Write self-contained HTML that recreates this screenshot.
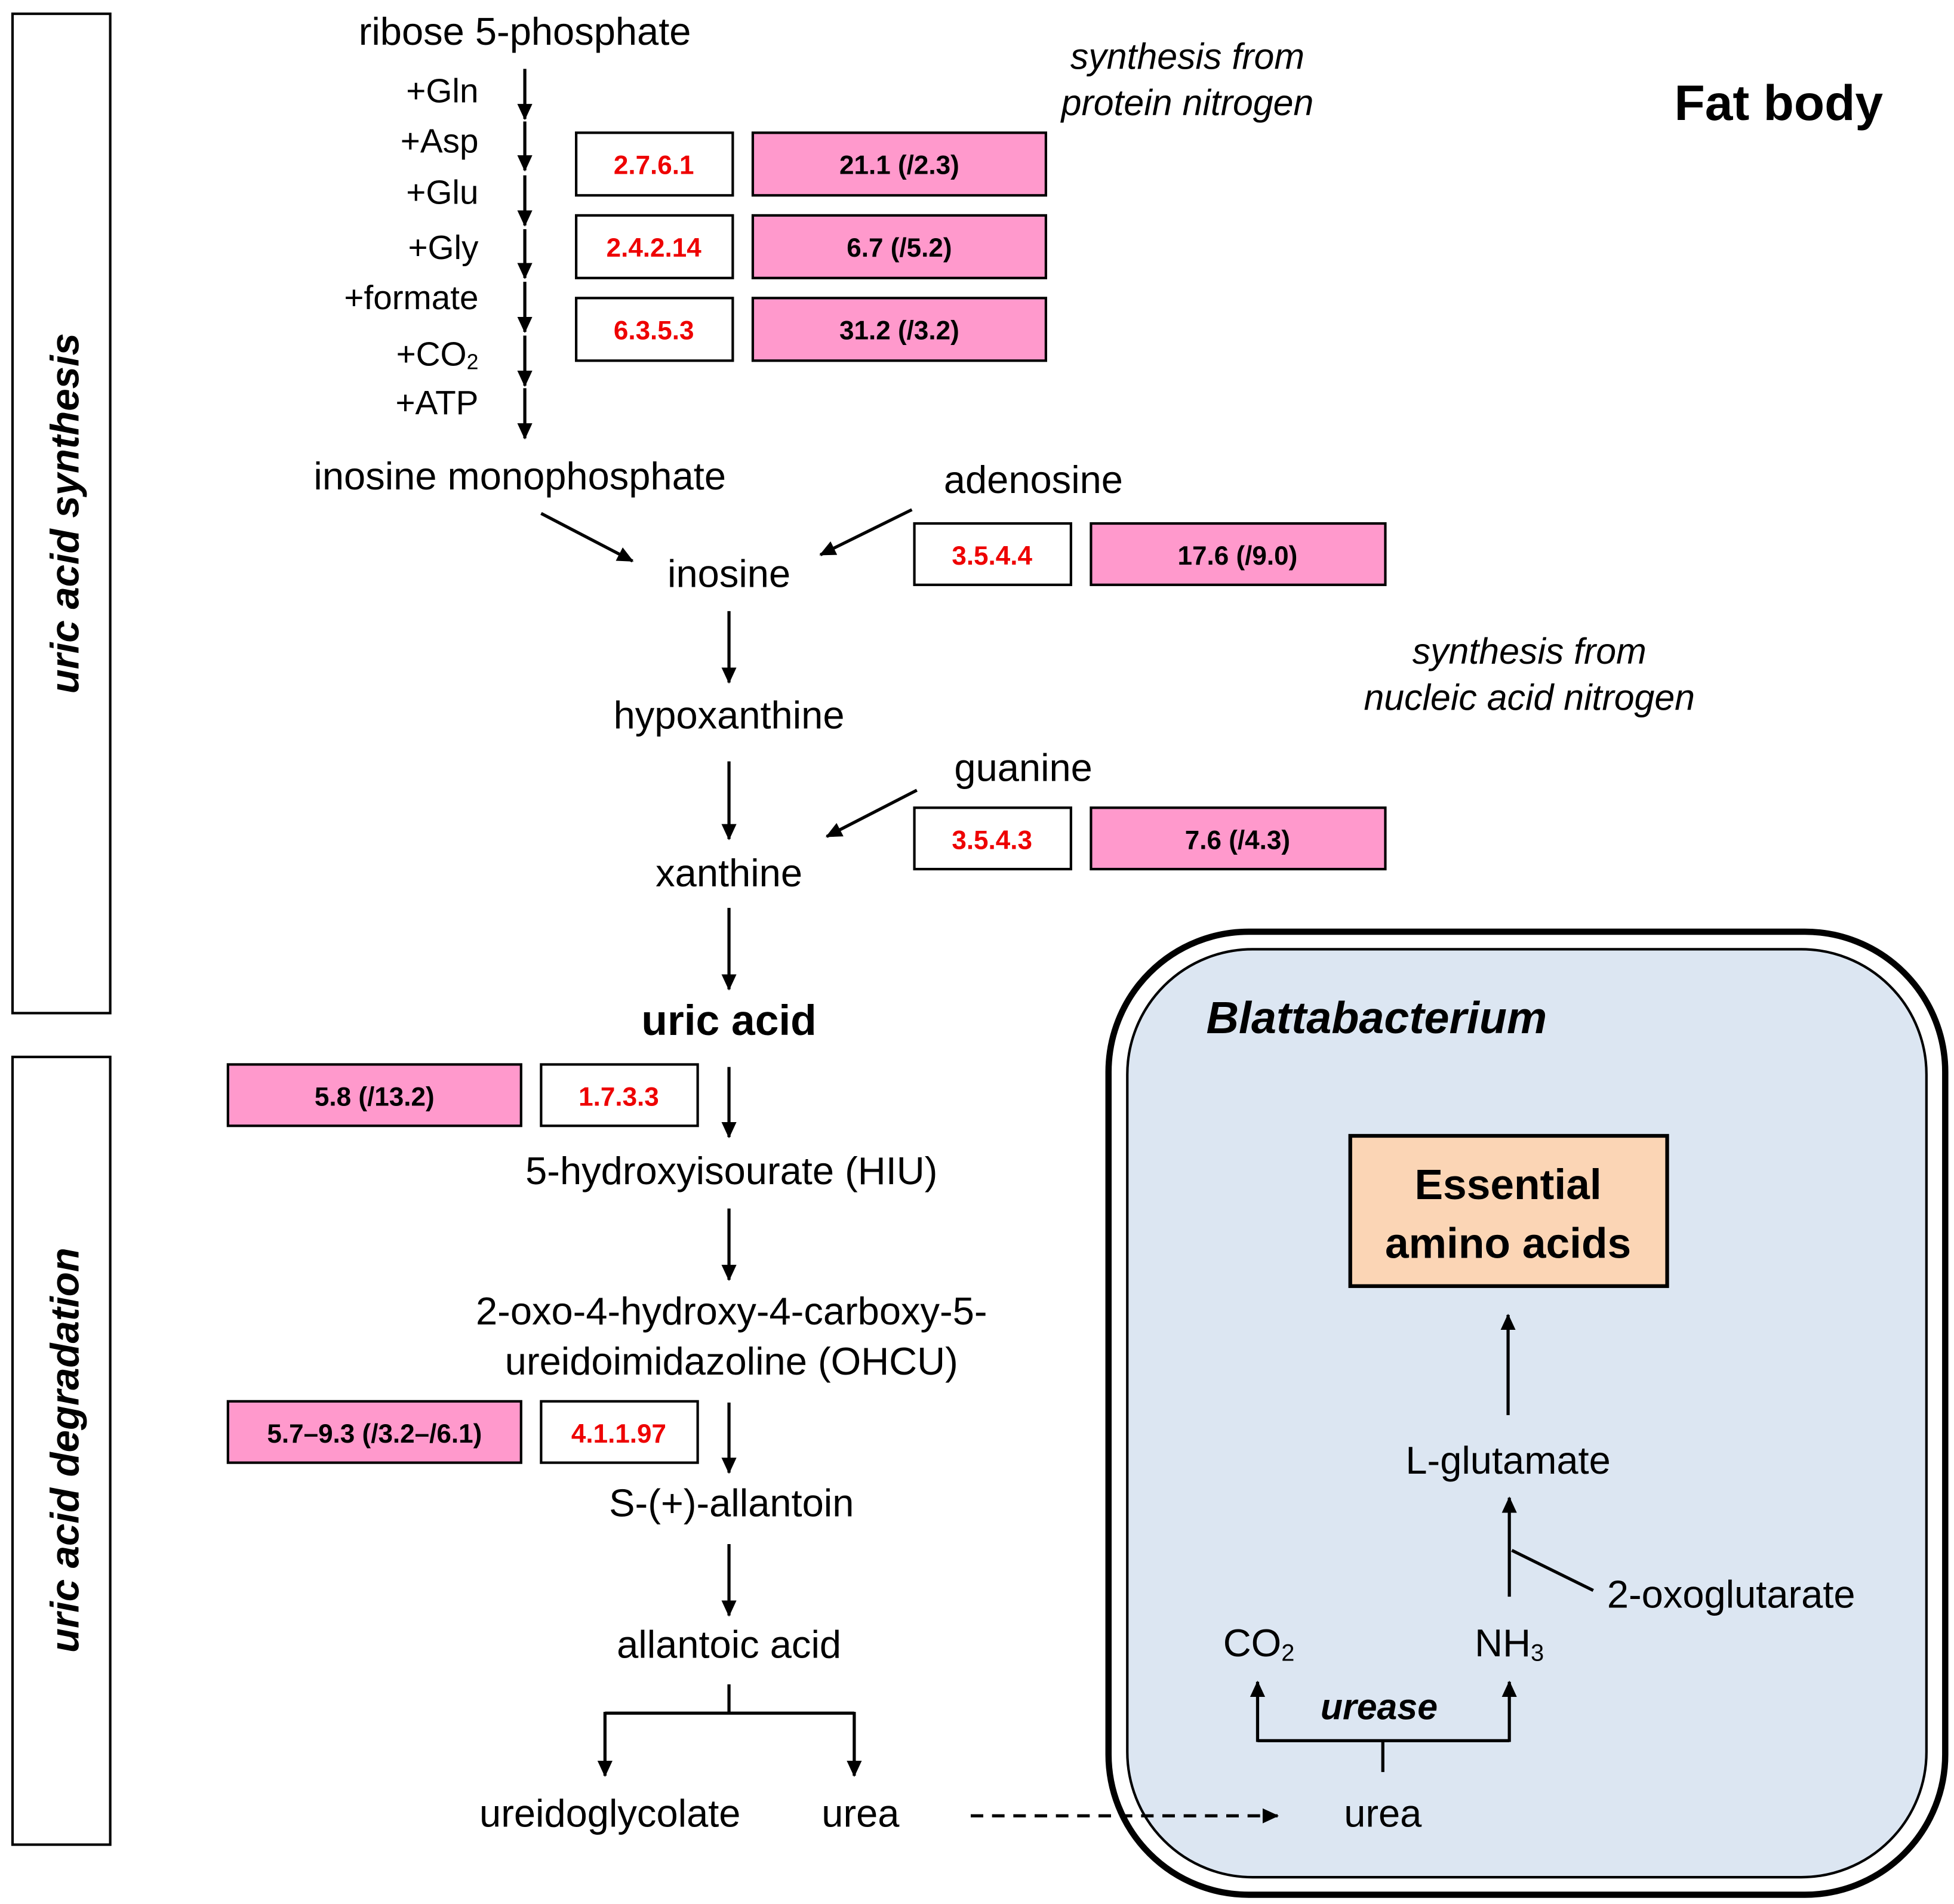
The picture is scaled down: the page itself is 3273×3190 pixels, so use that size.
<!DOCTYPE html>
<html><head><meta charset="utf-8"><style>
html,body{margin:0;padding:0;background:#fff;}
svg{display:block;}
text{font-family:"Liberation Sans",sans-serif;dominant-baseline:central;}
.t{font-size:31px;text-anchor:middle;}
.i{font-size:29px;text-anchor:middle;font-style:italic;}
.s{font-size:27px;text-anchor:end;}
.r{font-size:21px;font-weight:bold;fill:#e00;text-anchor:middle;}
.p{font-size:21px;font-weight:bold;fill:#000;text-anchor:middle;}
.wb{fill:#fff;stroke:#000;stroke-width:2;}
.pb{fill:#ff99cc;stroke:#000;stroke-width:2;}
.ln{stroke:#000;stroke-width:2.5;fill:none;}
</style></head><body>
<svg width="3273" height="3190" viewBox="0 0 1560 1520.4" preserveAspectRatio="none" xmlns="http://www.w3.org/2000/svg">
<defs>
<marker id="b" markerWidth="14" markerHeight="14" refX="12" refY="7" orient="auto" markerUnits="userSpaceOnUse"><path d="M0,1 L13,7 L0,13 z" fill="#000"/></marker></defs>

<rect x="10" y="11" width="78" height="798" fill="#fff" stroke="#000" stroke-width="2"/>
<text transform="translate(52,410) rotate(-90)" style="font-size:32px;font-weight:bold;font-style:italic;text-anchor:middle">uric acid synthesis</text>
<rect x="10" y="844" width="78" height="629" fill="#fff" stroke="#000" stroke-width="2"/>
<text transform="translate(52,1158) rotate(-90)" style="font-size:32px;font-weight:bold;font-style:italic;text-anchor:middle">uric acid degradation</text>

<text class="t" x="419" y="25">ribose 5-phosphate</text>
<g class="ln" marker-end="url(#b)">
<line x1="419" y1="55" x2="419" y2="95"/><line x1="419" y1="97" x2="419" y2="136"/><line x1="419" y1="140" x2="419" y2="180"/><line x1="419" y1="183" x2="419" y2="222"/><line x1="419" y1="225" x2="419" y2="265"/><line x1="419" y1="268" x2="419" y2="308"/><line x1="419" y1="310" x2="419" y2="350"/>
</g>
<text class="s" x="382" y="73">+Gln</text><text class="s" x="382" y="113">+Asp</text><text class="s" x="382" y="154">+Glu</text><text class="s" x="382" y="198">+Gly</text><text class="s" x="382" y="238">+formate</text><text class="s" x="382" y="283">+CO<tspan font-size="17" dy="6">2</tspan></text><text class="s" x="382" y="322">+ATP</text>

<rect class="wb" x="460" y="106" width="125" height="50"/><rect class="pb" x="601" y="106" width="234" height="50"/>
<text class="r" x="522" y="132">2.7.6.1</text><text class="p" x="718" y="132">21.1 (/2.3)</text>
<rect class="wb" x="460" y="172" width="125" height="50"/><rect class="pb" x="601" y="172" width="234" height="50"/>
<text class="r" x="522" y="198">2.4.2.14</text><text class="p" x="718" y="198">6.7 (/5.2)</text>
<rect class="wb" x="460" y="238" width="125" height="50"/><rect class="pb" x="601" y="238" width="234" height="50"/>
<text class="r" x="522" y="264">6.3.5.3</text><text class="p" x="718" y="264">31.2 (/3.2)</text>

<text class="i" x="948" y="45">synthesis from</text>
<text class="i" x="948" y="82">protein nitrogen</text>
<text x="1420" y="82" style="font-size:40px;font-weight:bold;text-anchor:middle">Fat body</text>

<text class="t" x="415" y="380">inosine monophosphate</text>
<line class="ln" x1="432" y1="410" x2="505" y2="448" marker-end="url(#b)"/>
<text class="t" x="582" y="458">inosine</text>
<text class="t" x="825" y="383">adenosine</text>
<line class="ln" x1="728" y1="407" x2="655" y2="443" marker-end="url(#b)"/>
<rect class="wb" x="730" y="418" width="125" height="49"/><rect class="pb" x="871" y="418" width="235" height="49"/>
<text class="r" x="792" y="444">3.5.4.4</text><text class="p" x="988" y="444">17.6 (/9.0)</text>

<line class="ln" x1="582" y1="488" x2="582" y2="545" marker-end="url(#b)"/>
<text class="t" x="582" y="571">hypoxanthine</text>
<text class="i" x="1221" y="520">synthesis from</text>
<text class="i" x="1221" y="557">nucleic acid nitrogen</text>
<text class="t" x="817" y="613">guanine</text>
<line class="ln" x1="732" y1="631" x2="660" y2="668" marker-end="url(#b)"/>
<rect class="wb" x="730" y="645" width="125" height="49"/><rect class="pb" x="871" y="645" width="235" height="49"/>
<text class="r" x="792" y="671">3.5.4.3</text><text class="p" x="988" y="671">7.6 (/4.3)</text>
<line class="ln" x1="582" y1="608" x2="582" y2="670" marker-end="url(#b)"/>
<text class="t" x="582" y="697">xanthine</text>
<line class="ln" x1="582" y1="725" x2="582" y2="790" marker-end="url(#b)"/>
<text x="582" y="815" style="font-size:34px;font-weight:bold;text-anchor:middle">uric acid</text>

<rect class="pb" x="182" y="850" width="234" height="49"/><rect class="wb" x="432" y="850" width="125" height="49"/>
<text class="p" x="299" y="876">5.8 (/13.2)</text><text class="r" x="494" y="876">1.7.3.3</text>
<line class="ln" x1="582" y1="852" x2="582" y2="908" marker-end="url(#b)"/>
<text class="t" x="584" y="935">5-hydroxyisourate (HIU)</text>
<line class="ln" x1="582" y1="965" x2="582" y2="1022" marker-end="url(#b)"/>
<text class="t" x="584" y="1047">2-oxo-4-hydroxy-4-carboxy-5-</text>
<text class="t" x="584" y="1087">ureidoimidazoline (OHCU)</text>
<rect class="pb" x="182" y="1119" width="234" height="49"/><rect class="wb" x="432" y="1119" width="125" height="49"/>
<text class="p" x="299" y="1145">5.7–9.3 (/3.2–/6.1)</text><text class="r" x="494" y="1145">4.1.1.97</text>
<line class="ln" x1="582" y1="1120" x2="582" y2="1176" marker-end="url(#b)"/>
<text class="t" x="584" y="1200">S-(+)-allantoin</text>
<line class="ln" x1="582" y1="1233" x2="582" y2="1290" marker-end="url(#b)"/>
<text class="t" x="582" y="1313">allantoic acid</text>
<path class="ln" d="M582,1345 V1368 M483,1368 H682"/>
<line class="ln" x1="483" y1="1367" x2="483" y2="1418" marker-end="url(#b)"/>
<line class="ln" x1="682" y1="1367" x2="682" y2="1418" marker-end="url(#b)"/>
<text class="t" x="487" y="1448">ureidoglycolate</text>
<text class="t" x="687" y="1448">urea</text>

<rect x="885" y="744" width="668" height="769" rx="112" fill="#fff" stroke="#000" stroke-width="5"/>
<rect x="900" y="758" width="638" height="741" rx="100" fill="#dce6f2" stroke="#000" stroke-width="2"/>
<line x1="775" y1="1450" x2="1020" y2="1450" stroke="#000" stroke-width="2.5" stroke-dasharray="10,7" marker-end="url(#b)"/>
<text x="963" y="813" style="font-size:36px;font-weight:bold;font-style:italic">Blattabacterium</text>
<rect x="1078" y="907" width="253" height="120" fill="#fbd5b5" stroke="#000" stroke-width="3"/>
<text x="1204" y="946" style="font-size:34px;font-weight:bold;text-anchor:middle">Essential</text>
<text x="1204" y="993" style="font-size:34px;font-weight:bold;text-anchor:middle">amino acids</text>
<line class="ln" x1="1204" y1="1130" x2="1204" y2="1050" marker-end="url(#b)"/>
<text class="t" x="1204" y="1166">L-glutamate</text>
<line class="ln" x1="1205" y1="1275" x2="1205" y2="1196" marker-end="url(#b)"/>
<line class="ln" x1="1207" y1="1238" x2="1272" y2="1270"/>
<text class="t" x="1283" y="1273" style="text-anchor:start">2-oxoglutarate</text>
<text class="t" x="1005" y="1312">CO<tspan font-size="19" dy="8">2</tspan></text>
<text class="t" x="1205" y="1312">NH<tspan font-size="19" dy="8">3</tspan></text>
<text x="1101" y="1363" style="font-size:29px;font-weight:bold;font-style:italic;text-anchor:middle">urease</text>
<path class="ln" d="M1104,1415 V1390 M1004,1390 H1205"/>
<line class="ln" x1="1004" y1="1391" x2="1004" y2="1343" marker-end="url(#b)"/>
<line class="ln" x1="1205" y1="1391" x2="1205" y2="1343" marker-end="url(#b)"/>
<text class="t" x="1104" y="1448">urea</text>
</svg>
</body></html>
